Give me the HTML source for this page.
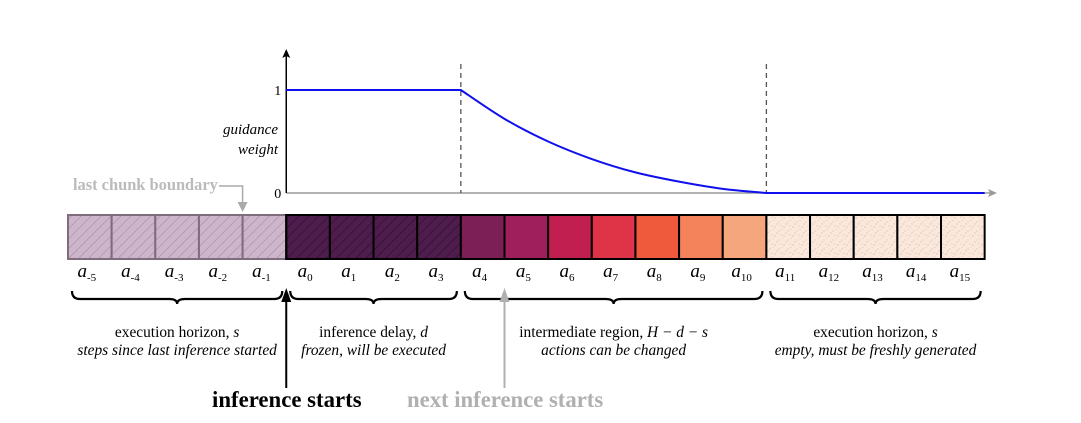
<!DOCTYPE html>
<html><head><meta charset="utf-8"><style>
body{margin:0;background:#fff;}
svg{display:block;font-family:"Liberation Serif",serif;}
</style></head><body>
<svg id="fig" width="1081" height="423" viewBox="0 0 1081 423" xmlns="http://www.w3.org/2000/svg">
<defs>
<pattern id="hatchL" width="7" height="7" patternUnits="userSpaceOnUse" patternTransform="rotate(45)"><line x1="0" y1="0" x2="0" y2="7" stroke="#9c879a" stroke-width="1"/></pattern>
<pattern id="hatchD" width="7" height="7" patternUnits="userSpaceOnUse" patternTransform="rotate(45)"><line x1="0" y1="0" x2="0" y2="7" stroke="#2a0e2a" stroke-width="1.2"/></pattern>
<pattern id="dots" width="9" height="9" patternUnits="userSpaceOnUse"><circle cx="1" cy="2" r="0.5" fill="#999"/><circle cx="5" cy="6" r="0.5" fill="#aaa"/><circle cx="7" cy="1" r="0.45" fill="#aaa"/><circle cx="3" cy="8" r="0.45" fill="#999"/><circle cx="8" cy="4.5" r="0.4" fill="#aaa"/></pattern>
</defs>
<g id="chart"></g>
<g id="cells"></g>
<g id="braces"></g>
</svg>
<script>
const NS='http://www.w3.org/2000/svg';
// data
const steps=[-5,-4,-3,-2,-1,0,1,2,3,4,5,6,7,8,9,10,11,12,13,14,15];
const curveSteps=[0,4,5,6,7,8,9,10,11,16];
const curveWeights=[1,1,0.72,0.5,0.33,0.2,0.11,0.04,0,0];
const yTicks=[0,1];
const regionNames=['execution horizon, s','inference delay, d','intermediate region, H − d − s','execution horizon, s'];
const regionSubs=['steps since last inference started','frozen, will be executed','actions can be changed','empty, must be freshly generated'];
const regionStart=[-5,0,4,11];
const regionEnd=[-1,3,10,15];
const fills={'-5':'hl','-4':'hl','-3':'hl','-2':'hl','-1':'hl','0':'hd','1':'hd','2':'hd','3':'hd','4':'#7b1f56','5':'#9e1f5b','6':'#c21f51','7':'#df3347','8':'#ef593c','9':'#f4825a','10':'#f6a67d'};

const x0=68,cw=43.65;
const xs=s=>x0+(s+5)*cw;
const y0=193,y1=90;
const ys=w=>y0-(w)*(y0-y1);
function el(tag,attrs,parent,txt){const e=document.createElementNS(NS,tag);for(const k in attrs)e.setAttribute(k,attrs[k]);if(txt!==undefined)e.textContent=txt;parent.appendChild(e);return e;}

const chart=document.getElementById('chart');
let a=el('line',{x1:xs(0),y1:y0,x2:990,y2:y0,stroke:'#999','stroke-width':1.5},chart);


a=el('path',{d:'M997,193 L988,189 L990,193 L988,197 Z',fill:'#999'},chart);


a=el('line',{x1:xs(0),y1:y0,x2:xs(0),y2:56,stroke:'#000','stroke-width':1.5},chart);


a=el('path',{d:`M${xs(0)},49 L${xs(0)-4},58 L${xs(0)},56 L${xs(0)+4},58 Z`,fill:'#000'},chart);


yTicks.forEach(t=>{const e=el('text',{x:xs(0)-5,y:ys(t)+5,'text-anchor':'end','font-size':14},chart,String(t));

});
[['guidance',134],['weight',154]].forEach(([t,y])=>{const e=el('text',{x:278,y:y,'text-anchor':'end','font-size':15,'font-style':'italic'},chart,t);

});
[4,11].forEach(s=>{const e=el('line',{x1:xs(s),y1:64,x2:xs(s),y2:y0,stroke:'#555','stroke-width':1.3,'stroke-dasharray':'5,4'},chart);

});
const pts=curveSteps.map((s,i)=>[xs(s),ys(curveWeights[i])]);
let d=`M${pts[0][0]},${pts[0][1]}`;
for(let i=0;i<pts.length-1;i++){const p0=pts[Math.max(0,i-1)],p1=pts[i],p2=pts[i+1],p3=pts[Math.min(pts.length-1,i+2)];
if(curveWeights[i]===curveWeights[i+1]){d+=` L${p2[0]},${p2[1]}`;continue;}
const q0=curveWeights[Math.max(0,i-1)]===curveWeights[i]?p1:p0;
const q3=curveWeights[Math.min(pts.length-1,i+2)]===curveWeights[i+1]?p2:p3;
d+=` C${p1[0]+(p2[0]-q0[0])/6},${p1[1]+(p2[1]-q0[1])/6} ${p2[0]-(q3[0]-p1[0])/6},${p2[1]-(q3[1]-p1[1])/6} ${p2[0]},${p2[1]}`;}
a=el('path',{d:d,fill:'none',stroke:'#1010ee','stroke-width':2},chart);



const cells=document.getElementById('cells');
steps.forEach(s=>{
 const f=fills[String(s)];const x=xs(s);
 let fill,stroke='#000',pat=null;
 if(f==='hl'){fill='#cdb6cb';stroke='#7f6c7d';pat='url(#hatchL)';}
 else if(f==='hd'){fill='#4e1d4d';pat='url(#hatchD)';}
 else if(f){fill=f;} else {fill='#fbe8db';pat='url(#dots)';}
 const r=el('rect',{x:x,y:215,width:cw,height:44,fill:fill,stroke:stroke,'stroke-width':2},cells);
 
 
 if(pat){const p=el('rect',{x:x+1,y:216,width:cw-2,height:42,fill:pat},cells);
 
 }
 const t=el('text',{x:x+cw/2-3,y:277,'text-anchor':'middle','font-size':19,'font-style':'italic'},cells);
 
 
 t.appendChild(document.createTextNode('a'));
 el('tspan',{'font-size':11,'font-style':'normal',dy:4},t,String(s));
});
a=el('line',{x1:xs(0),y1:214,x2:xs(0),y2:260,stroke:'#000','stroke-width':2},cells);


a=el('text',{x:73,y:190,'font-size':16.4,'font-weight':'bold',fill:'#bbb'},cells,'last chunk boundary');


a=el('path',{d:`M219,186 H${xs(-1)} V204`,fill:'none',stroke:'#aaa','stroke-width':1.5},cells);


a=el('path',{d:`M${xs(-1)-5},202 L${xs(-1)},212 L${xs(-1)+5},202 Z`,fill:'#aaa'},cells);



const br=document.getElementById('braces');
regionStart.forEach((s,i)=>{
 const xa=xs(s)+4,xb=xs(regionEnd[i])+cw-4,m=(xa+xb)/2,yt=291,yb=300;
 const d=`M${xa},${yt} Q${xa},${yb-1} ${xa+8},${yb-1} L${m-8},${yb-1} Q${m},${yb-1} ${m},${yb+4} Q${m},${yb-1} ${m+8},${yb-1} L${xb-8},${yb-1} Q${xb},${yb-1} ${xb},${yt}`;
 const p=el('path',{d:d,fill:'none',stroke:'#000','stroke-width':2.2},br);
 
 
 const t1=el('text',{x:m,y:337,'text-anchor':'middle','font-size':15.4},br);
 
 
 const parts=regionNames[i].split(', ');
 t1.appendChild(document.createTextNode(parts[0]+', '));
 el('tspan',{'font-style':'italic'},t1,parts[1]);
 const t2=el('text',{x:m,y:355,'text-anchor':'middle','font-size':15.4,'font-style':'italic'},br,regionSubs[i]);
 
 
});
a=el('line',{x1:xs(0),y1:388,x2:xs(0),y2:298,stroke:'#000','stroke-width':2},br);


a=el('path',{d:`M${xs(0)-5},302 L${xs(0)},288 L${xs(0)+5},302 Z`,fill:'#000'},br);


a=el('text',{x:212,y:407,'font-size':22.8,'font-weight':'bold'},br,'inference starts');


a=el('line',{x1:xs(5),y1:388,x2:xs(5),y2:298,stroke:'#b0b0b0','stroke-width':2},br);


a=el('path',{d:`M${xs(5)-5},302 L${xs(5)},288 L${xs(5)+5},302 Z`,fill:'#b0b0b0'},br);


a=el('text',{x:407,y:407,'font-size':22.7,'font-weight':'bold',fill:'#b0b0b0'},br,'next inference starts');


</script>
</body></html>
